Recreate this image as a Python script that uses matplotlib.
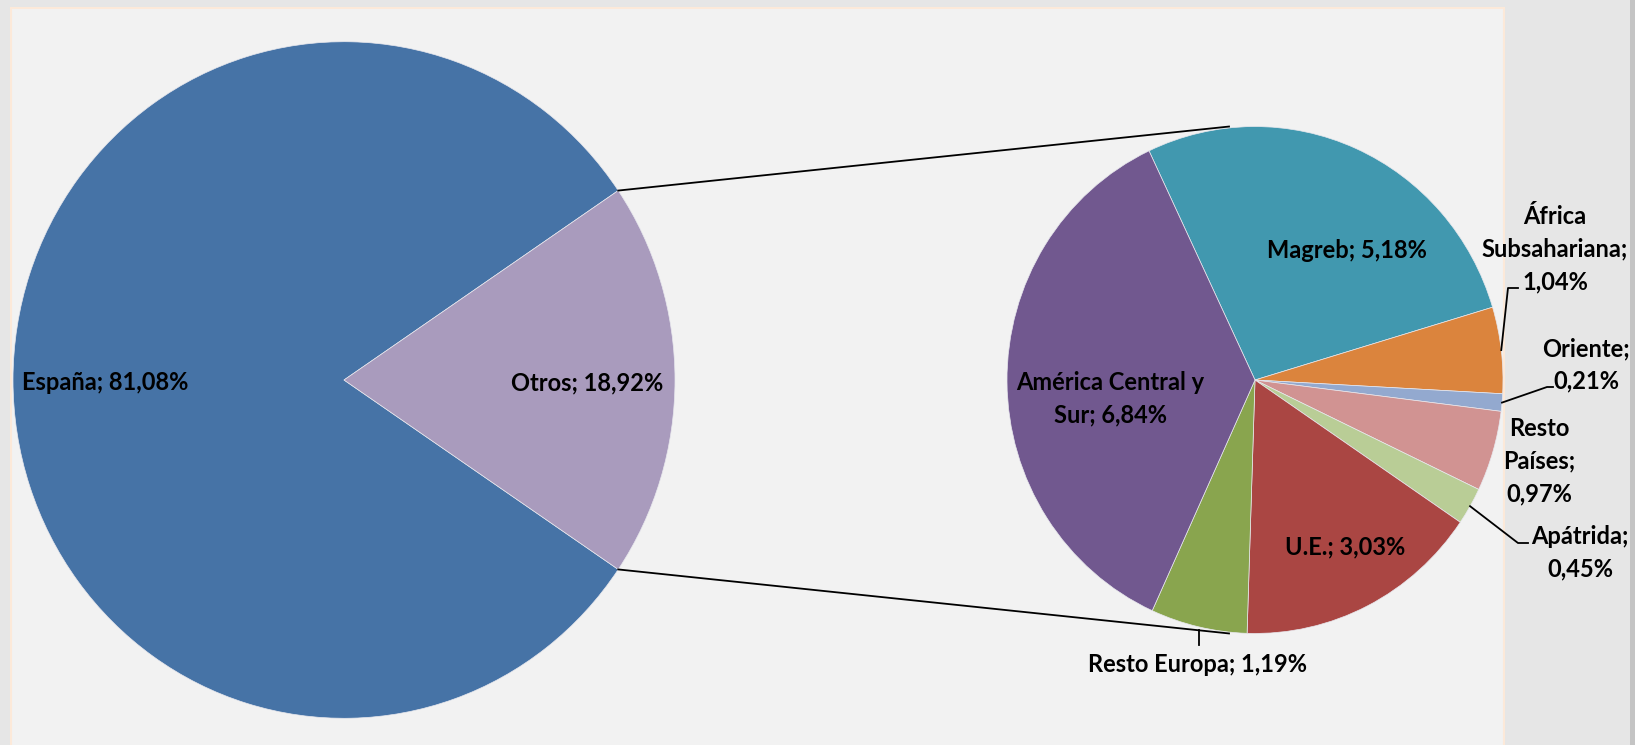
import numpy as np
import matplotlib.pyplot as plt
from matplotlib.patches import Rectangle

# Main pie
main_labels = ['España', 'Otros']
main_values = [81.08, 18.92]
main_colors = ['#4673A6', '#A99BBD']

# Breakdown of "Otros" (secondary pie, clockwise from Magreb)
sub_labels = ['Magreb', 'África Subsahariana', 'Oriente', 'Resto Países',
              'Apátrida', 'U.E.', 'Resto Europa', 'América Central y Sur']
sub_values = [5.18, 1.04, 0.21, 0.97, 0.45, 3.03, 1.19, 6.84]
sub_colors = ['#4198AF', '#DB843D', '#93A9CF', '#D19392',
              '#B9CD96', '#AA4643', '#89A54E', '#71588F']


def pct(v):
    return f'{v:.2f}%'.replace('.', ',')


W, H = 1635, 745
SY = 1.022  # the original chart is slightly stretched vertically


def py(y_down):
    # pixel row (from top) -> data y
    return (H - y_down) / SY


fig = plt.figure(figsize=(W / 100, H / 100), dpi=100)
fig.patch.set_facecolor('#E6E6E6')
ax = fig.add_axes([0, 0, 1, 1])

# plot area background
ax.add_patch(Rectangle((11, py(H + 5)), 1493, py(8) - py(H + 5), facecolor='#F2F2F2',
                       edgecolor='#FCE9D9', linewidth=1.5, zorder=0))
ax.add_patch(Rectangle((1630, 0), 5, py(0), facecolor='#C4C4C4', edgecolor='none', zorder=0))

# geometry
c1, r1 = (344, py(380)), 331
c2, r2 = (1255, py(380)), 248

start1 = 180 * main_values[1] / 100
ax.pie(main_values, colors=main_colors, startangle=start1, center=c1, radius=r1,
       wedgeprops=dict(edgecolor='#E8E8EE', linewidth=0.5))

start2 = 115.3
wedges, _ = ax.pie(sub_values, colors=sub_colors, startangle=start2, counterclock=False,
                   center=c2, radius=r2,
                   wedgeprops=dict(edgecolor='#E8E8EE', linewidth=0.5))

# connector lines between the two pies
a = np.deg2rad(start1)
for s in (1, -1):
    x0 = c1[0] + r1 * np.cos(a)
    y0 = c1[1] + s * r1 * np.sin(a)
    ax.plot([x0, c2[0] - 26], [y0, c2[1] + s * r2], color='black', lw=1.3, zorder=3)

font = dict(family=['Lato', 'DejaVu Sans'], fontsize=17, fontweight='bold',
            color='black', ha='center', va='center', linespacing=1.5)

# main labels
ax.text(105, py(383), f'{main_labels[0]}; {pct(main_values[0])}', **font)
ax.text(587, py(383), f'{main_labels[1]}; {pct(main_values[1])}', **font)

# secondary labels
sub_text = [
    (1347, 250, f'{sub_labels[0]}; {pct(sub_values[0])}'),
    (1555, 249, f'África\nSubsahariana;\n{pct(sub_values[1])}'),
    (1586, 365, f'Oriente;\n{pct(sub_values[2])}'),
    (1539, 461, f'Resto\nPaíses;\n{pct(sub_values[3])}'),
    (1580, 553, f'Apátrida;\n{pct(sub_values[4])}'),
    (1345, 547, f'{sub_labels[5]}; {pct(sub_values[5])}'),
    (1198, 665, f'{sub_labels[6]}; {pct(sub_values[6])}'),
    (1110, 399, f'América Central y\nSur; {pct(sub_values[7])}'),
]
for x, y, t in sub_text:
    ax.text(x, py(y), t, **font)

# leader lines for small slices: start on the wedge edge
mids = [np.deg2rad((w.theta1 + w.theta2) / 2) for w in wedges]


def edge(i):
    return c2[0] + r2 * np.cos(mids[i]), c2[1] + r2 * np.sin(mids[i])


leaders = {
    1: [(1508, py(288)), (1518, py(288))],
    2: [(1547, py(387)), (1553, py(387))],
    4: [(1518, py(543)), (1528, py(543))],
}
for i, pts in leaders.items():
    xs, ys = zip(*([edge(i)] + pts))
    ax.plot(xs, ys, color='black', lw=1.3, zorder=3)
x0, y0 = edge(6)
ax.plot([x0, x0], [y0 - 3, py(645)], color='black', lw=1.3, zorder=3)

ax.set_xlim(0, W)
ax.set_ylim(0, py(0))
ax.set_aspect('auto')
ax.axis('off')

plt.savefig('out.png', dpi=100, facecolor=fig.get_facecolor())
